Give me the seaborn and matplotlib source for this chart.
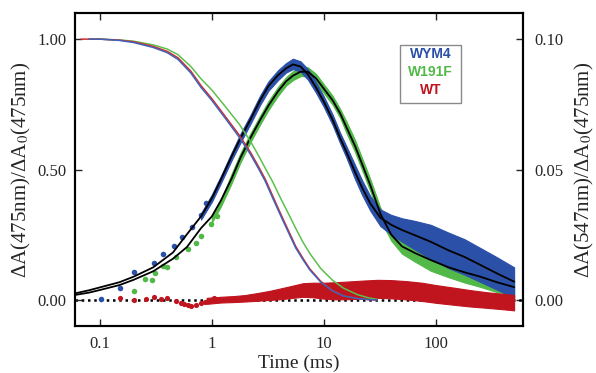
import numpy as np
import pandas as pd
import matplotlib
matplotlib.use("Agg")
import matplotlib.pyplot as plt
import seaborn as sns
from matplotlib.ticker import FixedLocator, FormatStrFormatter, NullLocator

# --- 475 nm decay traces (left axis) ---
t_decay = [0.068, 0.08, 0.1, 0.15, 0.2, 0.3, 0.4, 0.5, 0.65, 0.8, 1.0, 1.3, 1.75, 2.2, 2.6,
           3.0, 3.5, 4.2, 5.0, 5.6, 6.5, 7.5, 9.4, 12, 15, 20, 25, 30]
wym4_dec = [1.0, 1.0, 1.0, 0.995, 0.987, 0.968, 0.948, 0.922, 0.87, 0.815, 0.765, 0.70, 0.625, 0.56, 0.505,
            0.455, 0.39, 0.315, 0.245, 0.2, 0.155, 0.115, 0.068, 0.034, 0.015, 0.005, 0.001, 0.0]
wt_dec = [1.0, 1.0, 1.0, 0.996, 0.99, 0.972, 0.953, 0.928, 0.877, 0.822, 0.772, 0.707, 0.633, 0.568, 0.513,
          0.463, 0.398, 0.322, 0.252, 0.206, 0.16, 0.119, 0.071, 0.036, 0.016, 0.006, 0.0015, 0.0]
w191f_dec = [1.0, 1.0, 1.0, 0.997, 0.992, 0.978, 0.962, 0.94, 0.895, 0.848, 0.805, 0.745, 0.675, 0.61, 0.555,
             0.505, 0.452, 0.382, 0.318, 0.275, 0.222, 0.178, 0.12, 0.075, 0.045, 0.02, 0.008, 0.002]

# --- 547 nm fits (right axis) ---
t_fit = [0.06, 0.08, 0.1, 0.15, 0.2, 0.3, 0.45, 0.6, 0.8, 1.0, 1.2, 1.5, 1.8, 2.2, 2.7, 3.2, 3.9, 4.6,
         5.3, 6.2, 7.2, 8.5, 10, 12, 14, 16, 19, 22, 26, 32, 40, 50, 65, 90, 130, 180, 250, 350, 500]
wym4_fit = [0.0025, 0.0037, 0.0048, 0.0068, 0.0089, 0.0125, 0.0182, 0.0252, 0.032, 0.039, 0.046, 0.055,
            0.062, 0.069, 0.0766, 0.082, 0.0862, 0.0888, 0.0903, 0.0895, 0.0865, 0.0815, 0.076, 0.069,
            0.062, 0.0565, 0.049, 0.043, 0.037, 0.0315, 0.0288, 0.0268, 0.0248, 0.0223, 0.019, 0.0165,
            0.0134, 0.0102, 0.0070]
w191f_fit = [0.0019, 0.0028, 0.0038, 0.0057, 0.0077, 0.011, 0.0158, 0.0203, 0.0275, 0.032, 0.038, 0.0465,
             0.0545, 0.062, 0.069, 0.0745, 0.080, 0.0838, 0.086, 0.0875, 0.0875, 0.085, 0.081, 0.0765,
             0.0715, 0.066, 0.059, 0.052, 0.044, 0.033, 0.025, 0.0205, 0.018, 0.0153, 0.0125, 0.0106,
             0.0089, 0.0068, 0.0049]

# --- 547 nm data: sparse early points ---
wym4_dot_t = [0.102, 0.15, 0.202, 0.305, 0.368, 0.46, 0.547, 0.67, 0.797, 0.88]
wym4_dot_v = [0.0003, 0.0044, 0.0107, 0.014, 0.0175, 0.0208, 0.0243, 0.028, 0.0326, 0.037]
w191f_dot_t = [0.2, 0.254, 0.29, 0.31, 0.368, 0.40, 0.477, 0.607, 0.72, 0.80, 0.98, 1.12]
w191f_dot_v = [0.0035, 0.0081, 0.0077, 0.0105, 0.0131, 0.0128, 0.0166, 0.0196, 0.0217, 0.0245, 0.029, 0.032]
wt_dot_t = [0.15, 0.2, 0.257, 0.305, 0.35, 0.40, 0.477, 0.53, 0.566, 0.61, 0.65, 0.72, 0.8, 0.87, 0.946, 1.05]
wt_dot_v = [0.0006, 0.0, 0.0004, 0.0013, 0.0005, 0.0006, -0.0003, -0.001, -0.0015, -0.002, -0.0023,
            -0.0018, -0.0013, -0.0008, -0.0003, 0.0006]

# --- 547 nm data: dense noisy part, read as lower / upper edge ---
wym4_band_t = [0.8, 1.0, 1.2, 1.5, 1.8, 2.2, 2.7, 3.2, 3.9, 4.6, 5.3, 6.2, 7.2, 8.5, 10, 12, 14, 16, 19,
               22, 26, 32, 40, 50, 65, 90, 130, 180, 250, 350, 500]
wym4_band_lo = [0.0308, 0.0376, 0.0446, 0.0535, 0.0603, 0.0673, 0.0748, 0.0802, 0.0843, 0.0872, 0.0885,
                0.0875, 0.0845, 0.0795, 0.074, 0.067, 0.060, 0.0543, 0.0463, 0.0402, 0.0342, 0.0283,
                0.025, 0.0223, 0.0193, 0.0158, 0.0122, 0.0097, 0.0069, 0.004, 0.0008]
wym4_band_hi = [0.0332, 0.0404, 0.0474, 0.0565, 0.0637, 0.0707, 0.0784, 0.0838, 0.0881, 0.0908, 0.0925,
                0.0915, 0.0885, 0.0835, 0.078, 0.071, 0.064, 0.0587, 0.0517, 0.0458, 0.0398, 0.0347,
                0.0326, 0.0313, 0.0303, 0.0288, 0.0258, 0.0233, 0.0199, 0.0164, 0.0125]
w191f_band_t = [1.0, 1.2, 1.5, 1.8, 2.2, 2.7, 3.2, 3.9, 4.6, 5.3, 6.2, 7.2, 8.5, 10, 12, 14, 16, 19, 22,
                26, 32, 40, 50, 65, 90, 130, 180, 250, 350, 500]
w191f_band_lo = [0.0297, 0.0357, 0.0447, 0.0527, 0.0603, 0.0673, 0.0728, 0.0783, 0.0822, 0.0843, 0.0858,
                 0.0858, 0.0833, 0.0793, 0.0748, 0.0698, 0.0638, 0.0567, 0.0497, 0.0417, 0.0307, 0.0227,
                 0.0177, 0.0147, 0.0112, 0.0087, 0.0067, 0.0050, 0.0030, 0.0010]
w191f_band_hi = [0.0323, 0.0383, 0.0483, 0.0563, 0.0637, 0.0707, 0.0762, 0.0817, 0.0854, 0.0877, 0.0892,
                 0.0892, 0.0867, 0.0827, 0.0782, 0.0732, 0.0682, 0.0613, 0.0543, 0.0463, 0.0353, 0.0273,
                 0.0233, 0.0203, 0.0178, 0.0153, 0.0133, 0.0116, 0.0096, 0.0077]
wt_band_t = [0.9, 1.2, 1.6, 2.0, 2.6, 3.3, 4.2, 5.3, 6.5, 8, 10, 13, 17, 22, 30, 40, 55, 75, 100, 140,
             200, 280, 380, 500]
wt_band_lo = [-0.0015, -0.001, -0.0008, -0.0006, -0.0003, 0.0, 0.0003, 0.0008, 0.0012, 0.001, 0.0005,
              0.0002, 0.0003, 0.0005, 0.0008, 0.0006, 0.0002, -0.0004, -0.0011, -0.0018, -0.0025, -0.003,
              -0.0035, -0.004]
wt_band_hi = [0.0008, 0.0012, 0.0015, 0.0019, 0.0027, 0.0035, 0.0045, 0.0055, 0.0064, 0.0066, 0.0066,
              0.0068, 0.0071, 0.0074, 0.0077, 0.0076, 0.0072, 0.0066, 0.0057, 0.0048, 0.0038, 0.003,
              0.0024, 0.0019]

x_ticks = [0.1, 1, 10, 100]
x_tick_labels = ["0.1", "1", "10", "100"]
left_ticks = [0.0, 0.5, 1.0]
right_ticks = [0.0, 0.05, 0.10]
legend_names = ["WYM4", "W191F", "WT"]

c_blue = "#2b50a8"
c_green = "#52b848"
c_red = "#c0141f"
c_blue_line = "#4063b8"
c_green_line = "#5cc04c"
c_red_line = "#d42a30"

sns.set_style("ticks")
plt.rcParams["font.family"] = ["Liberation Serif", "DejaVu Serif"]
plt.rcParams["mathtext.fontset"] = "stix"

fig = plt.figure(figsize=(5.96, 3.73), dpi=100)
ax = fig.add_axes([0.1258, 0.126, 0.7517, 0.839])
ax2 = ax.twinx()

# right axis: 547 nm data + fits
ax2.axhline(0, color="black", ls=(0, (1, 1.5)), lw=1.8, zorder=1)
ax2.fill_between(w191f_band_t, w191f_band_lo, w191f_band_hi, color=c_green, lw=0.8, zorder=2)
ax2.fill_between(wym4_band_t, wym4_band_lo, wym4_band_hi, color=c_blue, lw=0.8, zorder=3)
ax2.fill_between(wt_band_t, wt_band_lo, wt_band_hi, color=c_red, lw=0.8, zorder=4)
sns.scatterplot(x=w191f_dot_t, y=w191f_dot_v, color=c_green, s=16, linewidth=0, ax=ax2, zorder=2)
sns.scatterplot(x=wym4_dot_t, y=wym4_dot_v, color=c_blue, s=16, linewidth=0, ax=ax2, zorder=3)
sns.scatterplot(x=wt_dot_t, y=wt_dot_v, color=c_red, s=14, linewidth=0, ax=ax2, zorder=4)
sns.lineplot(x=t_fit, y=wym4_fit, color="black", lw=1.3, ax=ax2, sort=False, estimator=None, zorder=5)
sns.lineplot(x=t_fit, y=w191f_fit, color="black", lw=1.3, ax=ax2, sort=False, estimator=None, zorder=5)

# left axis: 475 nm decays, drawn above the right-axis data
sns.lineplot(x=t_decay[1:], y=w191f_dec[1:], color=c_green_line, lw=1.1, ax=ax, sort=False, estimator=None)
sns.lineplot(x=t_decay, y=wt_dec, color=c_red_line, lw=1.1, ax=ax, sort=False, estimator=None)
sns.lineplot(x=t_decay[1:], y=wym4_dec[1:], color=c_blue_line, lw=1.1, ax=ax, sort=False, estimator=None)
ax.set_zorder(ax2.get_zorder() + 1)
ax.patch.set_visible(False)

ax.set_xscale("log")
ax.set_xlim(0.06, 600)
ax.set_ylim(-0.1, 1.1)
ax2.set_ylim(-0.01, 0.11)

ax.xaxis.set_major_locator(FixedLocator(x_ticks))
ax.set_xticklabels(x_tick_labels)
ax.xaxis.set_minor_locator(NullLocator())
ax.yaxis.set_major_locator(FixedLocator(left_ticks))
ax.yaxis.set_major_formatter(FormatStrFormatter("%.2f"))
ax2.yaxis.set_major_locator(FixedLocator(right_ticks))
ax2.yaxis.set_major_formatter(FormatStrFormatter("%.2f"))

ax.tick_params(axis="x", which="both", direction="in", top=True, length=5, width=1, labelsize=12, pad=7)
ax.tick_params(axis="y", direction="in", right=False, length=5, width=1, labelsize=12, pad=6)
ax2.tick_params(axis="y", direction="in", length=5, width=1, labelsize=12, pad=8)

for a in (ax, ax2):
    for s in a.spines.values():
        s.set_linewidth(1.5)
        s.set_color("black")

ax.set_xlabel("Time (ms)", fontsize=14, labelpad=2)
ax.set_ylabel("ΔA(475nm)/ΔA$_0$(475nm)", fontsize=15, labelpad=3)
ax2.set_ylabel("ΔA(547nm)/ΔA$_0$(475nm)", fontsize=15, rotation=90, labelpad=7)

# text-only legend box
leg_colors = [c_blue, c_green, c_red]
for i, (name, col) in enumerate(zip(legend_names, leg_colors)):
    ax.text(0.7935, 0.868 - i * 0.0575, name, transform=ax.transAxes, ha="center", va="center",
            color=col, fontsize=10, fontweight="bold", family=["Liberation Sans", "DejaVu Sans"])
box = plt.Rectangle((0.7255, 0.712), 0.136, 0.185, transform=ax.transAxes, fill=False,
                    edgecolor="#8a8a8a", lw=1.0)
ax.add_patch(box)

fig.savefig("out.png", dpi=100)
